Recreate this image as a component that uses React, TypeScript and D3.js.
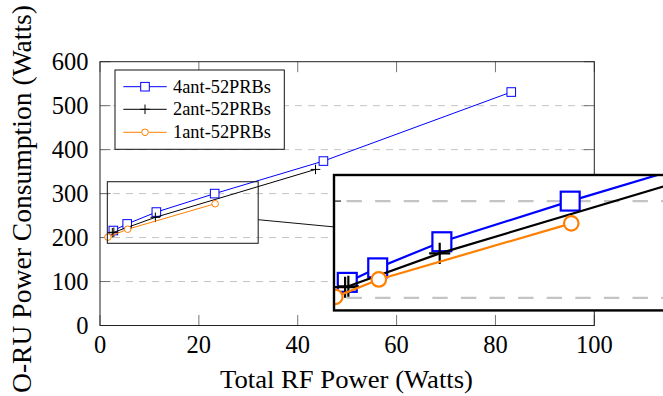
import React from 'react';
import * as d3 from 'd3';

// axis ticks
const xTicks = [0, 20, 40, 60, 80, 100];
const yTicks = [0, 100, 200, 300, 400, 500, 600];
const gridValues = [100, 200, 300, 400, 500];

// series (RF power in W, consumption in W)
const rf4ant = [2.7, 5.5, 11.4, 23.2, 45.2, 83.2];
const pw4ant = [216, 231, 258, 300, 374, 531];
const rf2ant = [2.5, 2.8, 11.2, 43.6];
const pw2ant = [211, 212, 246, 355];
const rf1ant = [1.6, 5.6, 23.3];
const pw1ant = [201, 219, 277];

const seriesNames = ['4ant-52PRBs', '2ant-52PRBs', '1ant-52PRBs'];

// spy window in data space
const spyX = [1.48, 32.0];
const spyY = [187, 327];

const W = 663;
const H = 396;
const margin = { left: 100, right: 594.3, top: 61.7, bottom: 325.5 };
const FONT = "'Liberation Serif', 'Times New Roman', serif";

const x = d3.scaleLinear().domain([0, 100]).range([margin.left, margin.right]);
const y = d3.scaleLinear().domain([0, 600]).range([margin.bottom, margin.top]);

type Kind = 'square' | 'plus' | 'circle';
interface Series { name: string; color: string; kind: Kind; xs: number[]; ys: number[] }

const series: Series[] = [
  { name: seriesNames[0], color: '#0000ff', kind: 'square', xs: rf4ant, ys: pw4ant },
  { name: seriesNames[1], color: '#000000', kind: 'plus', xs: rf2ant, ys: pw2ant },
  { name: seriesNames[2], color: '#ff8000', kind: 'circle', xs: rf1ant, ys: pw1ant },
];

const line = d3.line<[number, number]>().x(d => x(d[0])).y(d => y(d[1]));

const Marker: React.FC<{ kind: Kind; cx: number; cy: number; color: string }> = ({ kind, cx, cy, color }) => {
  if (kind === 'square') {
    return <rect x={cx - 4.3} y={cy - 4.3} width={8.6} height={8.6} fill="white" stroke={color} strokeWidth={1} />;
  }
  if (kind === 'circle') {
    return <circle cx={cx} cy={cy} r={3.3} fill="white" stroke={color} strokeWidth={1} />;
  }
  return <path d={`M${cx - 4.8},${cy}H${cx + 4.8}M${cx},${cy - 4.8}V${cy + 4.8}`} stroke={color} strokeWidth={1} fill="none" />;
};

const tickLen = 10.5;

// everything inside the axis box; drawn once normally and once magnified
const PlotBody: React.FC = () => (
  <g>
    {gridValues.map(v => (
      <line key={'g' + v} x1={margin.left} x2={margin.right} y1={y(v)} y2={y(v)}
        stroke="#c4c4c4" strokeWidth={1} strokeDasharray="7 6" />
    ))}
    {xTicks.map(v => (
      <g key={'xt' + v} stroke="#666" strokeWidth={0.9}>
        <line x1={x(v)} x2={x(v)} y1={margin.bottom} y2={margin.bottom - tickLen} />
        <line x1={x(v)} x2={x(v)} y1={margin.top} y2={margin.top + tickLen} />
      </g>
    ))}
    {yTicks.map(v => (
      <g key={'yt' + v} stroke="#666" strokeWidth={0.9}>
        <line x1={margin.left} x2={margin.left + tickLen} y1={y(v)} y2={y(v)} />
        <line x1={margin.right} x2={margin.right - tickLen} y1={y(v)} y2={y(v)} />
      </g>
    ))}
    <rect x={margin.left} y={margin.top} width={margin.right - margin.left} height={margin.bottom - margin.top}
      fill="none" stroke="#222" strokeWidth={1} />
    {series.map(s => {
      const pts = s.xs.map((v, i) => [v, s.ys[i]] as [number, number]);
      return (
        <g key={s.name}>
          <path d={line(pts) ?? ''} fill="none" stroke={s.color} strokeWidth={1} />
          {pts.map((p, i) => <Marker key={i} kind={s.kind} cx={x(p[0])} cy={y(p[1])} color={s.color} />)}
        </g>
      );
    })}
  </g>
);

export default function App() {
  const mag = 2.2;
  const sL = x(spyX[0]);
  const sR = x(spyX[1]);
  const sT = y(spyY[1]);
  const sB = y(spyY[0]);
  const inL = 334;
  const inT = 175;
  const inW = (sR - sL) * mag;
  const inH = (sB - sT) * mag;

  // connector between the two centres, only the part outside both boxes
  const c1 = [(sL + sR) / 2, (sT + sB) / 2];
  const c2 = [inL + inW / 2, inT + inH / 2];
  const at = (px: number) => c1[1] + (c2[1] - c1[1]) * (px - c1[0]) / (c2[0] - c1[0]);

  const legend = { x: 115, y: 70, w: 169.3, h: 79.3 };
  const rowY = [86.7, 109.3, 132.3];

  return (
    <svg width={W} height={H} style={{ position: 'absolute', left: 0, top: 0, background: 'white' }}
      fontFamily={FONT}>
      <defs>
        <clipPath id="inset-clip">
          <rect x={inL} y={inT} width={inW} height={inH} />
        </clipPath>
      </defs>

      <PlotBody />

      {/* tick labels */}
      {xTicks.map(v => (
        <text key={'xl' + v} x={x(v)} y={353.3} textAnchor="middle" fontSize={24.5}>{v}</text>
      ))}
      {yTicks.map(v => (
        <text key={'yl' + v} x={88.5} y={y(v)} textAnchor="end" dominantBaseline="central" fontSize={24.5}>{v}</text>
      ))}

      {/* axis labels */}
      <text x={346.5} y={388.3} textAnchor="middle" fontSize={25} textLength={253} lengthAdjust="spacingAndGlyphs">
        Total RF Power (Watts)
      </text>
      <text transform="translate(31,199) rotate(-90)" textAnchor="middle" fontSize={28}
        textLength={388} lengthAdjust="spacingAndGlyphs">
        O-RU Power Consumption (Watts)
      </text>

      {/* legend */}
      <rect x={legend.x} y={legend.y} width={legend.w} height={legend.h} fill="white" stroke="#111" strokeWidth={1} />
      {series.map((s, i) => (
        <g key={'lg' + s.name}>
          <line x1={123.3} x2={166.7} y1={rowY[i]} y2={rowY[i]} stroke={s.color} strokeWidth={1} />
          <Marker kind={s.kind} cx={145} cy={rowY[i]} color={s.color} />
          <text x={173} y={rowY[i] + 6} fontSize={18.5} textLength={98} lengthAdjust="spacingAndGlyphs">{s.name}</text>
        </g>
      ))}

      {/* spy window and connector */}
      <rect x={sL} y={sT} width={sR - sL} height={sB - sT} fill="none" stroke="#111" strokeWidth={1} />
      <line x1={sR} y1={at(sR)} x2={inL} y2={at(inL)} stroke="#111" strokeWidth={1} />

      {/* magnified inset */}
      <rect x={inL} y={inT} width={inW} height={inH} fill="white" />
      <g clipPath="url(#inset-clip)">
        <g transform={`translate(${inL},${inT}) scale(${mag}) translate(${-sL},${-sT})`}>
          <PlotBody />
        </g>
      </g>
      <rect x={inL} y={inT} width={inW} height={inH} fill="none" stroke="#000" strokeWidth={2.4} />
    </svg>
  );
}
